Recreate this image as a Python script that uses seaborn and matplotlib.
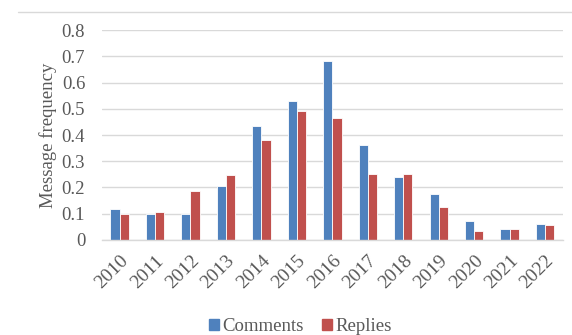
import matplotlib
matplotlib.use("Agg")
import matplotlib.pyplot as plt
from matplotlib.lines import Line2D
import seaborn as sns
import pandas as pd

years = ["2010", "2011", "2012", "2013", "2014", "2015", "2016",
         "2017", "2018", "2019", "2020", "2021", "2022"]
comments = [0.117, 0.098, 0.100, 0.206, 0.436, 0.530, 0.684,
            0.361, 0.241, 0.175, 0.071, 0.041, 0.062]
replies = [0.098, 0.107, 0.188, 0.248, 0.382, 0.490, 0.463,
           0.251, 0.251, 0.127, 0.033, 0.041, 0.058]
series = ["Comments", "Replies"]
colors = ["#4F81BD", "#C0504D"]
y_ticks = [0, 0.1, 0.2, 0.3, 0.4, 0.5, 0.6, 0.7, 0.8]
y_tick_labels = ["0", "0.1", "0.2", "0.3", "0.4", "0.5", "0.6", "0.7", "0.8"]

df = pd.DataFrame({
    "Year": years * 2,
    "Value": comments + replies,
    "Series": [series[0]] * len(years) + [series[1]] * len(years),
})

sns.set_theme(style="white")
plt.rcParams["font.family"] = ["Liberation Serif", "DejaVu Serif"]

text_color = "#595959"
fig = plt.figure(figsize=(5.72, 3.35), dpi=100)
ax = fig.add_axes([0.178, 0.284, 0.806, 0.626])

sns.barplot(data=df, x="Year", y="Value", hue="Series", order=years,
            hue_order=series, palette=colors, width=0.52, ax=ax,
            edgecolor="white", linewidth=0.6, legend=False, saturation=1)

ax.set_ylim(0, 0.8)
ax.set_yticks(y_ticks)
ax.set_yticklabels(y_tick_labels, fontsize=13.5, color=text_color)
ax.yaxis.grid(True, color="#d9d9d9", linewidth=1)
ax.set_axisbelow(True)
ax.tick_params(axis="y", length=0, pad=12)
ax.tick_params(axis="x", length=0, pad=9)
for label in ax.get_xticklabels():
    label.set_rotation(45)
    label.set_ha("right")
    label.set_rotation_mode("anchor")
    label.set_fontsize(14)
    label.set_color(text_color)
for s in ["top", "right", "left"]:
    ax.spines[s].set_visible(False)
ax.spines["bottom"].set_color("#d9d9d9")
ax.spines["bottom"].set_linewidth(1)
ax.set_xlabel("")
ax.set_ylabel("Message frequency", fontsize=13.5, color=text_color, labelpad=3)

# frame line across the top of the chart area
fig.add_artist(Line2D([18 / 572, 1.0], [1 - 12 / 335, 1 - 12 / 335],
                      color="#d9d9d9", linewidth=1, transform=fig.transFigure))

handles = [plt.Rectangle((0, 0), 1, 1, color=c) for c in colors]
fig.legend(handles, series, loc="center", bbox_to_anchor=(0.525, 0.025),
           ncol=2, frameon=False, fontsize=13.5, handlelength=0.55,
           handleheight=0.55, handletextpad=0.15, columnspacing=1.0,
           labelcolor=text_color)

fig.savefig("out.png", dpi=100)
